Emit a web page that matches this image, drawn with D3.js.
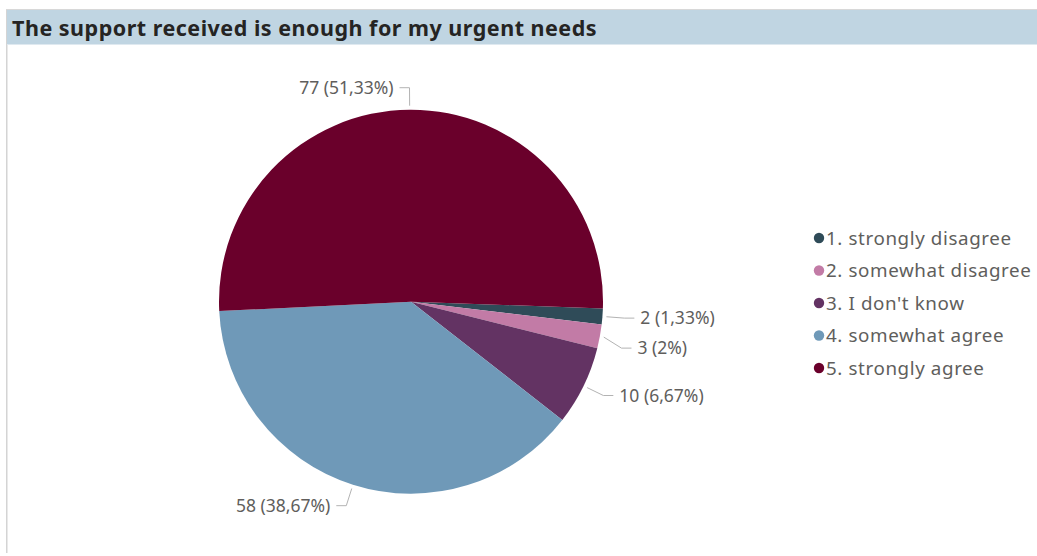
<!DOCTYPE html>
<html>
<head>
<meta charset="utf-8">
<script src="https://cdn.jsdelivr.net/npm/d3@7"></script>
<style>
  html, body { margin: 0; padding: 0; background: #ffffff; }
  svg { display: block; font-family: "Noto Sans", "Open Sans", sans-serif; }
</style>
</head>
<body>
<svg id="chart" width="1037" height="556"></svg>
<script>
// Survey answers for "The support received is enough for my urgent needs"
const categories = ["1. strongly disagree", "2. somewhat disagree", "3. I don't know", "4. somewhat agree", "5. strongly agree"];
const counts = [2, 3, 10, 58, 77];
const percentLabels = ["1,33%", "2%", "6,67%", "38,67%", "51,33%"];
const colors = ["#2f4b58", "#c27ba6", "#633363", "#6f99b8", "#6a002b"];
const title = "The support received is enough for my urgent needs";

const W = 1037, H = 556;
const svg = d3.select("#chart");

// Card frame: top rule, left border and title band
svg.append("rect").attr("x", 6).attr("y", 9).attr("width", W - 6).attr("height", 1).attr("fill", "#d8d8d8");
svg.append("rect").attr("x", 6).attr("y", 10).attr("width", 1.5).attr("height", H - 13).attr("fill", "#d4d4d4");
svg.append("rect").attr("x", 7).attr("y", 10).attr("width", W - 7).attr("height", 34).attr("fill", "#c0d5e2");
svg.append("rect").attr("x", 7).attr("y", 44).attr("width", W - 7).attr("height", 1).attr("fill", "#dfe9f0");
svg.append("text")
  .attr("x", 12).attr("y", 36)
  .attr("font-size", 21.5).attr("font-weight", "bold")
  .attr("letter-spacing", 0.5)
  .attr("fill", "#252423")
  .text(title);

// Pie
const cx = 411, cy = 301.7, r = 192;
const startOffset = 2 * Math.PI / 180;
const pie = d3.pie().sort(null).value(d => d)
  .startAngle(Math.PI / 2 + startOffset)
  .endAngle(Math.PI / 2 + startOffset + 2 * Math.PI);
const arcs = pie(counts);
const arc = d3.arc().innerRadius(0).outerRadius(r);

const g = svg.append("g").attr("transform", `translate(${cx},${cy})`);
g.selectAll("path.slice").data(arcs).join("path")
  .attr("class", "slice")
  .attr("d", arc)
  .attr("fill", (d, i) => colors[i]);

// Data labels with leader lines
const pt = (a, rad) => [Math.sin(a) * rad, -Math.cos(a) * rad];
const labels = arcs.map((d, i) => {
  const mid = (d.startAngle + d.endAngle) / 2;
  const p0 = pt(mid, r + 4);
  const p1 = pt(mid, r + 22);
  const right = Math.sin(mid) >= 0;
  return { i, mid, p0, p1, right, text: `${counts[i]} (${percentLabels[i]})` };
});

// keep labels on each side at least a line apart
[true, false].forEach(side => {
  const group = labels.filter(l => l.right === side).sort((a, b) => a.p1[1] - b.p1[1]);
  for (let k = 1; k < group.length; k++) {
    const prev = group[k - 1], cur = group[k];
    if (cur.p1[1] - prev.p1[1] < 30) cur.p1 = [cur.p1[0], prev.p1[1] + 30];
  }
});

const lg = g.append("g");
labels.forEach(l => {
  const dir = l.right ? 1 : -1;
  const p2 = [l.p1[0] + dir * 10, l.p1[1]];
  lg.append("polyline")
    .attr("points", [l.p0, l.p1, p2].map(p => p.join(",")).join(" "))
    .attr("fill", "none").attr("stroke", "#b3b3b3").attr("stroke-width", 1);
  lg.append("text")
    .attr("x", p2[0] + dir * 6).attr("y", p2[1])
    .attr("dy", "0.35em")
    .attr("text-anchor", l.right ? "start" : "end")
    .attr("font-size", 17.5).attr("fill", "#605e5c")
    .text(l.text);
});

// Legend
const legendY = d3.scalePoint().domain(categories).range([238, 368]);
const leg = svg.append("g");
categories.forEach((c, i) => {
  const y = legendY(c);
  leg.append("circle").attr("cx", 819).attr("cy", y).attr("r", 5.2).attr("fill", colors[i]);
  leg.append("text").attr("x", 826).attr("y", y).attr("dy", "0.35em")
    .attr("font-size", 18.8).attr("letter-spacing", 0.6)
    .attr("fill", "#605e5c").text(c);
});
</script>
</body>
</html>
